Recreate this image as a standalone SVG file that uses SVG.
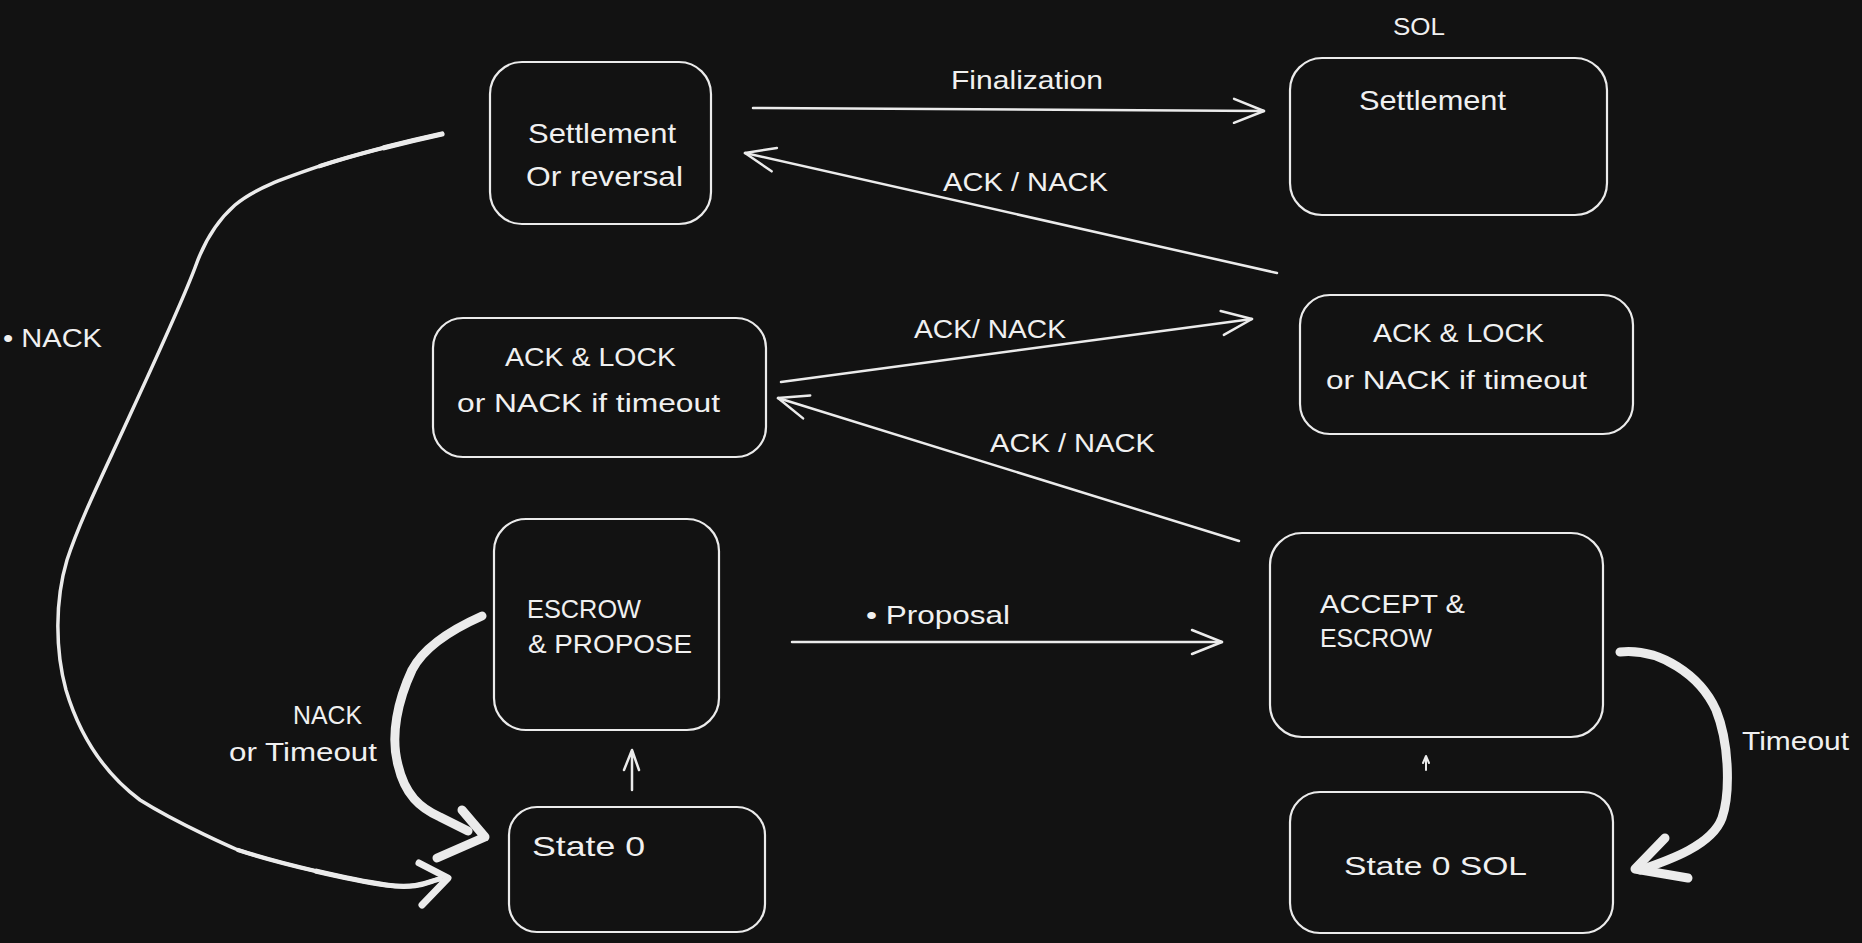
<svg xmlns="http://www.w3.org/2000/svg" width="1862" height="943" viewBox="0 0 1862 943">
<style>
.bg{fill:#121212}
.box{fill:none;stroke:#ebebeb;stroke-width:2.2}
.t{font-family:"Liberation Sans","DejaVu Sans",sans-serif;fill:#f0f0f0;font-size:26px}
.big{font-size:28px}
.sm{font-size:24px}
.ln{fill:none;stroke:#ebebeb;stroke-width:2.5;stroke-linecap:round;stroke-linejoin:round}
.thick{fill:none;stroke:#ebebeb;stroke-width:9;stroke-linecap:round;stroke-linejoin:round}
.mid{fill:none;stroke:#ebebeb;stroke-width:3.5;stroke-linecap:round;stroke-linejoin:round}
</style>
<defs>
<marker id="arr" markerUnits="userSpaceOnUse" orient="auto" refX="0" refY="0" markerWidth="40" markerHeight="40" overflow="visible">
<path d="M-30,-12 L0,0 L-30,12" fill="none" stroke="#ebebeb" stroke-width="2.5" stroke-linecap="round" stroke-linejoin="round"/>
</marker>
</defs>
<rect class="bg" x="0" y="0" width="1862" height="943"/>

<g id="connectors">
<path class="ln" d="M753,108 L1264,111" marker-end="url(#arr)"/>
<path class="ln" d="M1277,273 L745,153" marker-end="url(#arr)"/>
<path class="ln" d="M781,382 L1252,319" marker-end="url(#arr)"/>
<path class="ln" d="M1239,541 L778,398" marker-end="url(#arr)"/>
<path class="ln" d="M792,642 L1222,642" marker-end="url(#arr)"/>
<path class="ln" d="M632,790 L632,751 M624,770 L632,750 L639,770"/>
<path class="ln" d="M1426,770 L1426,757 M1423,763 L1426,756 L1429,763" style="stroke-width:2"/>
<path class="mid" d="M442,134 C410,141 360,153 320,166 C285,178 255,188 235,205 C218,220 205,240 196,265 C185,295 160,350 130,415 C105,470 80,520 67,560 C55,600 55,650 66,690 C78,730 100,770 140,800 C180,825 238,850 238,850 C284,865 352,880 386,885 C420,890 431,880 440,879"/>
<path class="mid" d="M442,134 C410,141 360,153 320,166" style="stroke-width:4.3"/>
<path class="mid" d="M442,134 C426,137.5 405.5,142.25 384,147.75" style="stroke-width:5.2"/>
<path class="mid" d="M238,850 C284,865 352,880 386,885 C420,890 431,880 440,879" style="stroke-width:4.3"/>
<path class="mid" d="M316.5,871.25 C343.5,877.5 369,882.5 386,885 C420,890 431,880 440,879" style="stroke-width:5.2"/>
<path class="mid" d="M419,863 L448,878 L422,905" style="stroke-width:7"/>
<path class="thick" d="M482,616 C455,628 425,645 412,670 C398,700 390,735 398,765 C405,795 420,808 440,817 L468,831"/>
<path class="thick" d="M462,810 L485,837 L437,858"/>
<path class="thick" d="M1620,652 C1660,648 1700,675 1716,710 C1730,745 1730,795 1722,818 C1712,845 1670,860 1640,870"/>
<path class="thick" d="M1665,838 L1635,869 L1688,878"/>
</g>

<g id="edge-labels">
<text class="t" x="951" y="89" textLength="152" lengthAdjust="spacingAndGlyphs">Finalization</text>
<text class="t" x="943" y="191" textLength="165" lengthAdjust="spacingAndGlyphs">ACK / NACK</text>
<text class="t" x="914" y="338" textLength="152" lengthAdjust="spacingAndGlyphs">ACK/ NACK</text>
<text class="t" x="990" y="452" textLength="165" lengthAdjust="spacingAndGlyphs">ACK / NACK</text>
<text class="t" x="3" y="347" textLength="99" lengthAdjust="spacingAndGlyphs">• NACK</text>
<text class="t" x="866" y="624" textLength="144" lengthAdjust="spacingAndGlyphs">• Proposal</text>
<text class="t" x="293" y="724" textLength="69" lengthAdjust="spacingAndGlyphs">NACK</text>
<text class="t" x="229" y="761" textLength="148" lengthAdjust="spacingAndGlyphs">or Timeout</text>
<text class="t" x="1742" y="750" textLength="107" lengthAdjust="spacingAndGlyphs">Timeout</text>
</g>

<g id="label-sol">
<text class="t sm" x="1393" y="35" textLength="52" lengthAdjust="spacingAndGlyphs">SOL</text>
</g>

<g id="node-settlement-reversal">
<rect class="box" x="490" y="62" width="221" height="162" rx="32"/>
<text class="t big" x="528" y="143" textLength="148" lengthAdjust="spacingAndGlyphs">Settlement</text>
<text class="t big" x="526" y="186" textLength="157" lengthAdjust="spacingAndGlyphs">Or reversal</text>
</g>

<g id="node-settlement-sol">
<rect class="box" x="1290" y="58" width="317" height="157" rx="32"/>
<text class="t big" x="1359" y="110" textLength="147" lengthAdjust="spacingAndGlyphs">Settlement</text>
</g>

<g id="node-ack-lock-left">
<rect class="box" x="433" y="318" width="333" height="139" rx="30"/>
<text class="t" x="505" y="366" textLength="171" lengthAdjust="spacingAndGlyphs">ACK &amp; LOCK</text>
<text class="t" x="457" y="412" textLength="263" lengthAdjust="spacingAndGlyphs">or NACK if timeout</text>
</g>

<g id="node-ack-lock-right">
<rect class="box" x="1300" y="295" width="333" height="139" rx="30"/>
<text class="t" x="1373" y="342" textLength="171" lengthAdjust="spacingAndGlyphs">ACK &amp; LOCK</text>
<text class="t" x="1326" y="389" textLength="261" lengthAdjust="spacingAndGlyphs">or NACK if timeout</text>
</g>

<g id="node-escrow-propose">
<rect class="box" x="494" y="519" width="225" height="211" rx="32"/>
<text class="t" x="527" y="618" textLength="114" lengthAdjust="spacingAndGlyphs">ESCROW</text>
<text class="t" x="528" y="653" textLength="164" lengthAdjust="spacingAndGlyphs">&amp; PROPOSE</text>
</g>

<g id="node-accept-escrow">
<rect class="box" x="1270" y="533" width="333" height="204" rx="32"/>
<text class="t" x="1320" y="613" textLength="145" lengthAdjust="spacingAndGlyphs">ACCEPT &amp;</text>
<text class="t" x="1320" y="647" textLength="112" lengthAdjust="spacingAndGlyphs">ESCROW</text>
</g>

<g id="node-state0">
<rect class="box" x="509" y="807" width="256" height="125" rx="28"/>
<text class="t big" x="532" y="856" textLength="113" lengthAdjust="spacingAndGlyphs">State 0</text>
</g>

<g id="node-state0-sol">
<rect class="box" x="1290" y="792" width="323" height="141" rx="30"/>
<text class="t" x="1344" y="875" textLength="183" lengthAdjust="spacingAndGlyphs">State 0 SOL</text>
</g>
</svg>
